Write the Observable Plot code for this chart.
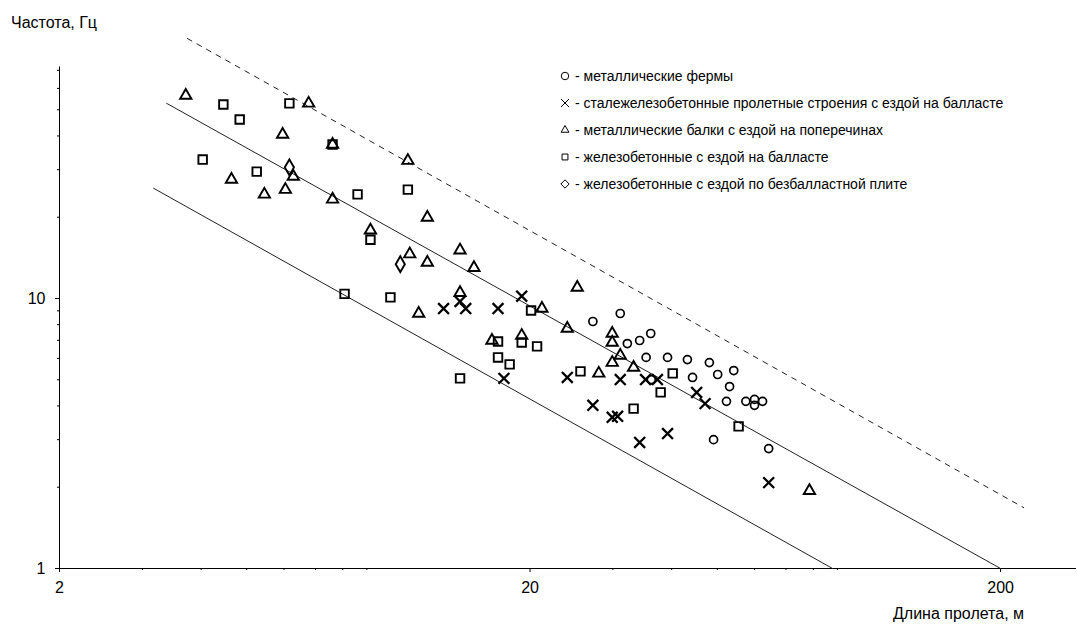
<!DOCTYPE html>
<html>
<head>
<meta charset="utf-8">
<script src="https://cdn.jsdelivr.net/npm/d3@7"></script>
<script src="https://cdn.jsdelivr.net/npm/@observablehq/plot@0.6"></script>
<style>
  html, body { margin: 0; padding: 0; background: #fff; }
  #wrap { position: relative; width: 1077px; height: 624px; font-family: "Liberation Sans", Arial, sans-serif; color: #000; }
  #wrap svg.plot { position: absolute; left: 0; top: 0; }
  .lbl { position: absolute; font-size: 16px; white-space: nowrap; line-height: 18px; }
  #legend { position: absolute; left: 557px; top: 62px; font-size: 14px; }
  #legend .row { height: 27px; display: flex; align-items: center; white-space: nowrap; }
  #legend svg { width: 16px; height: 16px; margin-right: 2px; }
</style>
</head>
<body>
<div id="wrap">
  <div class="lbl" style="left:11px; top:14px;">Частота, Гц</div>
  <div class="lbl" style="left:893px; top:605px;">Длина пролета, м</div>
  <div id="legend"></div>
</div>
<script>
// ---- data: span length L (m), frequency f (Hz) ----
const trussL = [31.1, 27.2, 32.2, 34.2, 36.1, 35.3, 39.2, 43.2, 48.1, 54.2, 36.2, 44.3, 50.1, 53.1, 52.3, 57.5, 60.0, 60.0, 62.4, 49.1, 64.3];
const trussF = [8.80, 8.22, 6.81, 6.99, 7.42, 6.05, 6.05, 5.94, 5.79, 5.41, 5.01, 5.10, 5.23, 4.72, 4.16, 4.16, 4.23, 4.02, 4.16, 3.00, 2.78];

const compL = [13.1, 14.2, 14.6, 17.1, 19.2, 17.6, 24.0, 31.1, 35.2, 37.3, 45.2, 47.1, 27.2, 29.9, 30.7, 39.2, 34.2, 64.3];
const compF = [9.18, 9.75, 9.18, 9.18, 10.2, 5.06, 5.10, 5.01, 5.01, 5.01, 4.49, 4.08, 4.02, 3.63, 3.66, 3.16, 2.93, 2.08];

const beamL = [3.71, 6.77, 5.96, 7.61, 11.0, 6.28, 4.64, 5.45, 6.04, 7.61, 9.16, 12.1, 11.1, 12.1, 14.2, 15.2, 11.6, 14.2, 21.2, 16.6, 19.2, 24.0, 25.2, 29.9, 29.9, 31.1, 29.9, 33.2, 28.0, 78.5];
const beamF = [56.5, 52.8, 40.5, 37.2, 32.4, 28.3, 27.6, 24.3, 25.3, 23.3, 17.9, 19.95, 14.6, 13.6, 15.1, 13.0, 8.80, 10.5, 9.18, 6.99, 7.29, 7.74, 10.98, 7.42, 6.87, 6.15, 5.79, 5.55, 5.28, 1.94];

const rcBallastL = [4.46, 6.16, 4.83, 7.61, 4.03, 5.25, 8.60, 11.0, 9.16, 8.07, 10.1, 20.1, 17.1, 19.2, 20.7, 17.1, 18.1, 14.2, 25.6, 40.2, 37.9, 33.2, 55.5];
const rcBallastF = [52.3, 52.8, 46.0, 37.2, 32.7, 29.5, 24.3, 25.3, 16.5, 10.4, 10.1, 9.03, 6.93, 6.87, 6.65, 6.05, 5.70, 5.06, 5.37, 5.28, 4.49, 3.91, 3.36];

const rcSlabL = [6.16, 10.6];
const rcSlabF = [30.6, 13.4];

const upperL = [3.38, 200];
const upperF = [52.8, 1];
const lowerL = [3.17, 87.9];
const lowerF = [25.6, 1];
const dashL = [3.74, 224];
const dashF = [91.8, 1.68];

const legendLabels = [
  "- металлические фермы",
  "- сталежелезобетонные пролетные строения с ездой на балласте",
  "- металлические балки с ездой на поперечинах",
  "- железобетонные с ездой на балласте",
  "- железобетонные с ездой по безбалластной плите"
];
const legendSymbols = ["circle", "times", "triangle", "square", "diamond"];

const xTicks = [2, 20, 200];
const xMinor = [3,4,5,6,7,8,9,30,40,50,60,70,80,90];
const yTicks = [1, 10];
const yMinor = [2,3,4,5,6,7,8,9,20,30,40,50,60,70];
const xDomain = [2, 290];
const yDomain = [1, 100];
const yAxisTop = 72;

const pts = (L, F) => L.map((l, i) => ({L: l, F: F[i]}));

const chart = Plot.plot({
  width: 1077,
  height: 624,
  marginLeft: 59,
  marginRight: 1,
  marginTop: 28,
  marginBottom: 56,
  style: {fontFamily: "Liberation Sans, Arial, sans-serif", fontSize: "16px", background: "white", color: "black"},
  x: {type: "log", domain: xDomain},
  y: {type: "log", domain: yDomain},
  marks: [
    Plot.ruleY([yDomain[0]], {stroke: "black", strokeWidth: 1}),
    Plot.ruleX([xDomain[0]], {y1: yDomain[0], y2: yAxisTop, stroke: "black", strokeWidth: 1}),
    Plot.axisX({ticks: xTicks, tickFormat: d => String(d), tickSize: 4, tickPadding: 9, fontSize: 16, label: null}),
    Plot.axisX({ticks: xMinor, tickFormat: () => "", tickSize: 2, label: null}),
    Plot.axisY({ticks: yTicks, tickFormat: d => String(d), tickSize: 4, tickPadding: 10, fontSize: 16, label: null}),
    Plot.axisY({ticks: yMinor, tickFormat: () => "", tickSize: 2, label: null}),
    Plot.line(pts(upperL, upperF), {x: "L", y: "F", stroke: "#222", strokeWidth: 1}),
    Plot.line(pts(lowerL, lowerF), {x: "L", y: "F", stroke: "#222", strokeWidth: 1}),
    Plot.line(pts(dashL, dashF), {x: "L", y: "F", stroke: "#222", strokeWidth: 1, strokeDasharray: "5,6"}),
    Plot.dot(pts(trussL, trussF), {x: "L", y: "F", symbol: "circle", r: 4, stroke: "black", strokeWidth: 1.7, fill: "none"}),
    Plot.dot(pts(compL, compF), {x: "L", y: "F", symbol: "times", r: 5, stroke: "black", strokeWidth: 2.3, fill: "none"}),
    Plot.dot(pts(beamL, beamF), {x: "L", y: "F", symbol: "triangle", r: 4.2, stroke: "black", strokeWidth: 1.9, fill: "none"}),
    Plot.dot(pts(rcBallastL, rcBallastF), {x: "L", y: "F", symbol: "square", r: 4.8, stroke: "black", strokeWidth: 1.9, fill: "none"}),
    Plot.dot(pts(rcSlabL, rcSlabF), {x: "L", y: "F", symbol: "diamond", r: 4.8, stroke: "black", strokeWidth: 1.9, fill: "none"})
  ]
});
chart.classList.add("plot");
document.getElementById("wrap").prepend(chart);

// legend
const symMap = {circle: d3.symbolCircle, times: d3.symbolTimes, triangle: d3.symbolTriangle2, square: d3.symbolSquare2, diamond: d3.symbolDiamond2};
const legend = d3.select("#legend");
legendLabels.forEach((lab, i) => {
  const row = legend.append("div").attr("class", "row");
  const s = row.append("svg").attr("viewBox", "-8 -8 16 16");
  s.append("path").attr("d", d3.symbol(symMap[legendSymbols[i]], 44)()).attr("fill", "none").attr("stroke", "black").attr("stroke-width", 1);
  row.append("span").text(lab);
});
</script>
</body>
</html>
